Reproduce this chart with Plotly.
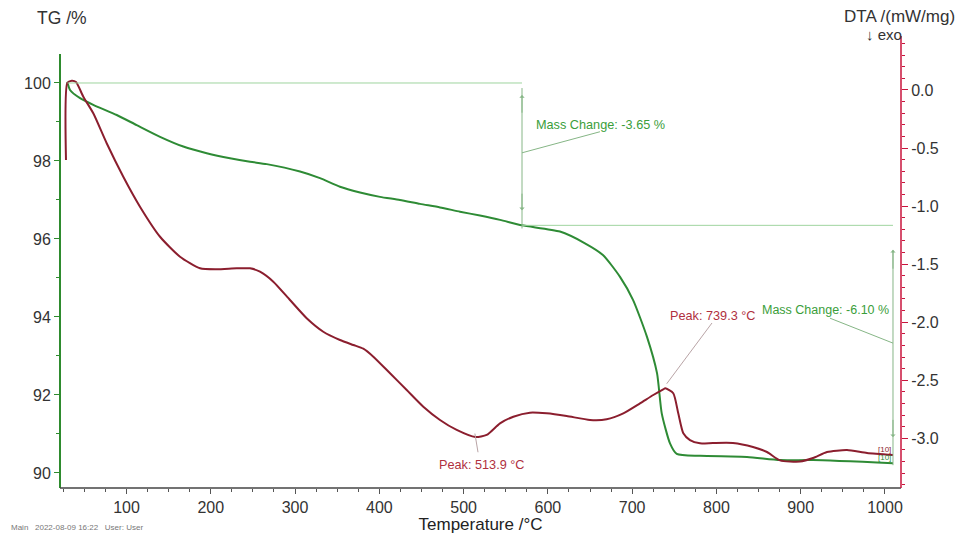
import plotly.graph_objects as go

# ---- data ----
temp_tg = [29.8, 33.0, 44.9, 60.6, 88.4, 112.1, 139.8, 167.4, 195.2, 222.8, 246.6, 266.4,
           305.9, 329.6, 353.3, 377.1, 400.8, 424.5, 448.3, 472.0, 495.7, 519.4, 543.2,
           569.3, 614.3, 644.0, 665.3, 685.6, 701.0, 717.6, 729.5, 735.1, 744.9, 752.9,
           780.5, 836.3, 875.4, 914.6, 1009.5]
tg = [100.03, 99.82, 99.61, 99.44, 99.18, 98.92, 98.62, 98.37, 98.20, 98.07, 97.98, 97.92,
      97.73, 97.56, 97.34, 97.19, 97.08, 97.00, 96.90, 96.81, 96.70, 96.60, 96.49,
      96.35, 96.19, 95.89, 95.59, 95.03, 94.44, 93.49, 92.56, 91.53, 90.76, 90.49,
      90.44, 90.41, 90.33, 90.33, 90.25]

temp_dta = [28.2, 29.8, 35.0, 40.1, 48.8, 60.6, 76.5, 96.2, 116.0, 139.8, 163.5, 187.2,
            207.0, 230.8, 246.6, 258.4, 274.2, 294.0, 313.8, 333.5, 353.3, 369.1, 381.0,
            392.9, 412.7, 432.5, 452.2, 472.0, 491.8, 513.9, 527.4, 543.2, 559.0, 578.7,
            598.6, 622.3, 650.0, 669.8, 689.5, 709.3, 725.1, 736.9, 739.3, 748.8, 754.7,
            760.7, 768.6, 780.5, 795.9, 819.6, 843.4, 860.0, 875.4, 899.1, 914.6, 931.2,
            954.9, 978.7, 1009.5]
dta = [-0.603, 0.060, 0.080, 0.069, -0.058, -0.201, -0.459, -0.747, -1.005, -1.264, -1.436,
       -1.536, -1.544, -1.536, -1.536, -1.565, -1.651, -1.809, -1.966, -2.082, -2.153,
       -2.196, -2.228, -2.297, -2.440, -2.584, -2.728, -2.842, -2.928, -2.989, -2.971,
       -2.871, -2.814, -2.779, -2.785, -2.808, -2.842, -2.836, -2.785, -2.699, -2.627,
       -2.578, -2.569, -2.612, -2.785, -2.957, -3.015, -3.043, -3.040, -3.040, -3.075,
       -3.118, -3.190, -3.200, -3.170, -3.118, -3.101, -3.127, -3.144]

x_ticks = [100, 200, 300, 400, 500, 600, 700, 800, 900, 1000]
tg_ticks = [90, 92, 94, 96, 98, 100]
tg_minor = [91, 93, 95, 97, 99]
dta_ticks = [0.0, -0.5, -1.0, -1.5, -2.0, -2.5, -3.0]

mass_start, mass_mid, mass_end = 100.0, 96.35, 90.25
step1_temp, step2_temp = 569.3, 1009.5
peak1 = (513.9, -2.989)
peak2 = (739.3, -2.569)

GREEN = '#2e8b35'
GREEN_AX = '#2e8b2e'
RED = '#8b1e2e'
RED_AX = '#c8143c'
ANN_GREEN = '#3a9e3a'
ANN_RED = '#b03040'
LIGHT_GREEN = '#9fd49f'
LEAD_GREEN = '#86b686'
LEAD_RED = '#b9a4a6'

fig = go.Figure()
fig.add_trace(go.Scatter(x=temp_tg, y=tg, mode='lines', yaxis='y',
                         line=dict(color=GREEN, width=2, shape='spline', smoothing=0.6),
                         hoverinfo='skip'))
fig.add_trace(go.Scatter(x=temp_dta, y=dta, mode='lines', yaxis='y2',
                         line=dict(color=RED, width=2, shape='spline', smoothing=0.6),
                         hoverinfo='skip'))

# the page body adds an 8 px offset; the figure is sized so the plot lands where the reference has it
OFF = 8
W, H = 964 - OFF, 534 - OFF
L, R, T, B = 60 - OFF, 63, 36 - OFF, 46
pw, ph = W - L - R, H - T - B


def px(xp):
    return (xp - OFF - L) / pw


def py(yp):
    return (H - B - (yp - OFF)) / ph


fig.update_layout(
    width=W, height=H,
    margin=dict(l=L, r=R, t=T, b=B, autoexpand=False),
    paper_bgcolor='white', plot_bgcolor='white', showlegend=False,
    font=dict(family='Liberation Sans, Arial, sans-serif', color='#333333'),
    xaxis=dict(range=[21.1, 1019], tickvals=x_ticks, ticks='outside', ticklen=5,
               tickcolor='#555555', showgrid=False, zeroline=False, showline=False,
               tickfont=dict(size=16, color='#333333'),
               minor=dict(dtick=25, tick0=0, ticks='outside', ticklen=3, tickcolor='#555555'),
               title=dict(text='Temperature /°C', font=dict(size=17, color='#222222'), standoff=1)),
    yaxis=dict(range=[89.615, 101.205], tickvals=tg_ticks, ticks='outside', ticklen=5,
               tickcolor=GREEN_AX, showgrid=False, zeroline=False, showline=False,
               tickfont=dict(size=16, color='#333333'),
               minor=dict(tickvals=tg_minor, ticks='outside', ticklen=3, tickcolor=GREEN_AX)),
    yaxis2=dict(range=[-3.428, 0.465], overlaying='y', side='right', tickvals=dta_ticks,
                ticktext=[f'{v:.1f}' for v in dta_ticks], ticks='outside', ticklen=6,
                tickcolor=RED_AX, showgrid=False, zeroline=False, showline=False,
                tickfont=dict(size=16, color='#333333'),
                minor=dict(dtick=0.1, tick0=0, ticks='outside', ticklen=3, tickcolor=RED_AX)),
)

shapes = [
    # axis lines
    dict(type='line', xref='paper', yref='paper', x0=0, x1=0, y0=0, y1=py(54),
         line=dict(color=GREEN_AX, width=2)),
    dict(type='line', xref='paper', yref='paper', x0=0, x1=1, y0=0, y1=0,
         line=dict(color='#444444', width=1.5)),
    dict(type='line', xref='paper', yref='paper', x0=1, x1=1, y0=0, y1=1,
         line=dict(color=RED_AX, width=1.5)),
    # mass change guide lines
    dict(type='line', xref='x', yref='y', x0=30, x1=step1_temp, y0=mass_start, y1=mass_start,
         line=dict(color=LIGHT_GREEN, width=1)),
    dict(type='line', xref='x', yref='y', x0=step1_temp, x1=step2_temp, y0=mass_mid, y1=mass_mid,
         line=dict(color=LIGHT_GREEN, width=1)),
    dict(type='line', xref='x', yref='y', x0=step1_temp, x1=step1_temp, y0=99.87, y1=mass_mid - 0.08,
         line=dict(color=LEAD_GREEN, width=1)),
    dict(type='line', xref='x', yref='y', x0=step2_temp, x1=step2_temp, y0=95.72, y1=mass_end - 0.05,
         line=dict(color=LEAD_GREEN, width=1)),
    # leaders
    dict(type='line', xref='x', yref='y', x0=step1_temp, y0=98.21, x1=661.8, y1=98.75,
         line=dict(color=LEAD_GREEN, width=1)),
    dict(type='line', xref='x', yref='y', x0=step2_temp, y0=93.33, x1=934.7, y1=93.97,
         line=dict(color=LEAD_GREEN, width=1)),
    dict(type='line', xref='x', yref='y2', x0=794.7, y0=-2.007, x1=741.0, y1=-2.53,
         line=dict(color=LEAD_RED, width=1)),
    dict(type='line', xref='x', yref='y2', x0=peak1[0] - 0.5, y0=peak1[1] + 0.03, x1=517.1, y1=-3.12,
         line=dict(color=LEAD_RED, width=1)),
]
fig.update_layout(shapes=shapes)

ann = []


def arrow(x, y_tip, y_tail):
    ann.append(dict(x=x, y=y_tip, ax=x, ay=y_tail, xref='x', yref='y', axref='x', ayref='y',
                    text='', showarrow=True, arrowhead=1, arrowsize=0.9, arrowwidth=1,
                    arrowcolor=LEAD_GREEN))


arrow(step1_temp, 99.69, 99.2)
arrow(step1_temp, 96.74, 97.2)
arrow(step2_temp, 95.72, 95.2)
arrow(step2_temp, 90.92, 91.4)

ann += [
    dict(x=583.8, y=98.92, xref='x', yref='y', text='Mass Change: -3.65 %', showarrow=False,
         xanchor='left', yanchor='middle', font=dict(size=12.7, color=ANN_GREEN)),
    dict(x=852.0, y=94.18, xref='x', yref='y', text='Mass Change: -6.10 %', showarrow=False,
         xanchor='left', yanchor='middle', font=dict(size=12.5, color=ANN_GREEN)),
    dict(x=742.5, y=-1.947, xref='x', yref='y2', text='Peak: 739.3 °C', showarrow=False,
         xanchor='left', yanchor='middle', font=dict(size=12.7, color=ANN_RED)),
    dict(x=468.4, y=-3.23, xref='x', yref='y2', text='Peak: 513.9 °C', showarrow=False,
         xanchor='left', yanchor='middle', font=dict(size=12.7, color=ANN_RED)),
    dict(x=989.0, y=-3.10, xref='x', yref='y2', text='[10]', showarrow=False,
         xanchor='left', yanchor='middle', font=dict(size=8, color=RED)),
    dict(x=989.0, y=90.41, xref='x', yref='y', text='[10]', showarrow=False,
         xanchor='left', yanchor='middle', font=dict(size=8, color=GREEN)),
    # axis titles and labels
    dict(x=px(35), y=py(18), xref='paper', yref='paper', text='TG /%', showarrow=False,
         xanchor='left', yanchor='middle', font=dict(size=17.5, color='#333333')),
    dict(x=px(957), y=py(17), xref='paper', yref='paper', text='DTA /(mW/mg)', showarrow=False,
         xanchor='right', yanchor='middle', font=dict(size=17, color='#333333')),
    dict(x=px(904), y=py(35), xref='paper', yref='paper', text='↓ exo', showarrow=False,
         xanchor='right', yanchor='middle', font=dict(size=15, color='#333333')),
    dict(x=px(9), y=py(527), xref='paper', yref='paper',
         text='Main   2022-08-09 16:22   User: User', showarrow=False,
         xanchor='left', yanchor='middle', font=dict(size=8, color='#777777')),
]
fig.update_layout(annotations=ann)

fig.write_html('out.html')
